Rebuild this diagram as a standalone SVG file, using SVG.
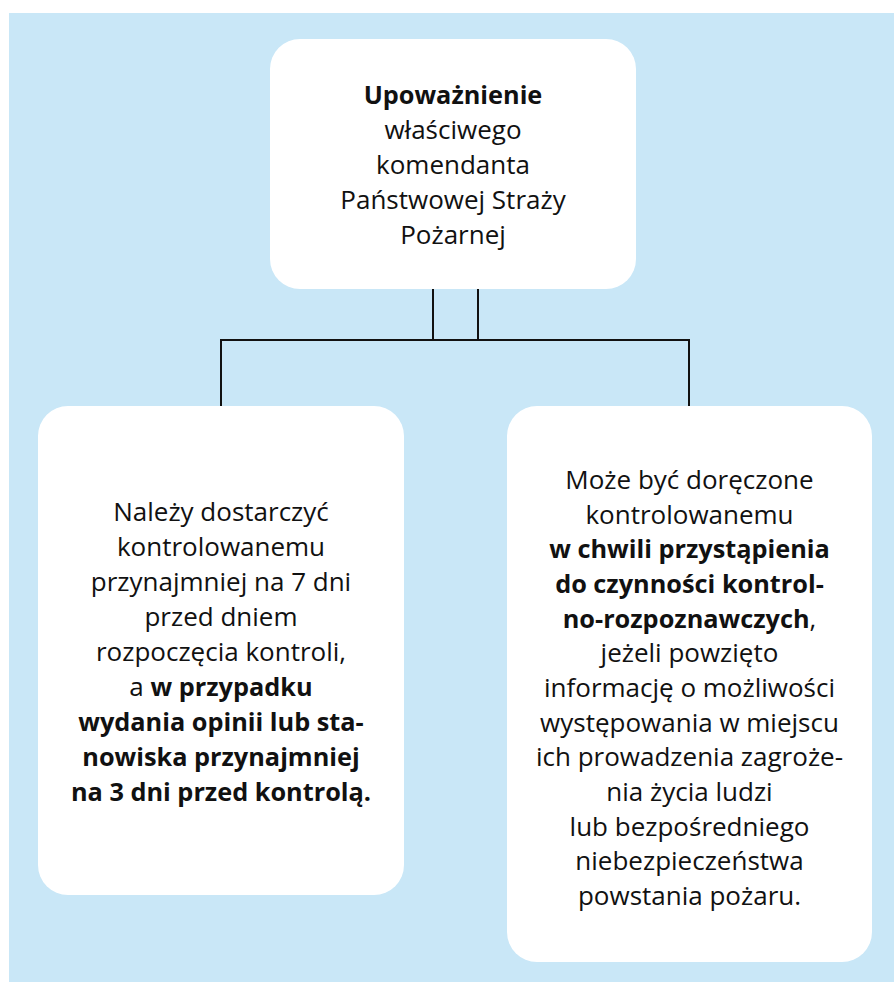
<svg xmlns="http://www.w3.org/2000/svg" width="894" height="983" viewBox="0 0 894 983">
<style>
.box{fill:#ffffff}
.t{font-family:"Open Sans","Noto Sans","DejaVu Sans",sans-serif;font-size:26px;fill:#111111;text-anchor:middle}
.b{font-weight:bold;font-size:25.3px}
.conn{stroke:#111111;stroke-width:2;fill:none}
</style>
<rect x="0" y="0" width="894" height="983" fill="#ffffff"/>
<rect x="9" y="13" width="885" height="969" fill="#c9e7f7"/>
<g id="connectors">
<path class="conn" d="M433 289V340M478 289V340M221 407V340H689V407"/>
</g>
<g id="top">
<rect class="box" x="270" y="39" width="366" height="250" rx="30"/>
<text class="t" x="453" y="104"><tspan class="b" font-size="25.6">Upoważnienie</tspan></text>
<text class="t" x="453" y="139">właściwego</text>
<text class="t" x="453" y="174">komendanta</text>
<text class="t" x="453" y="209">Państwowej Straży</text>
<text class="t" x="453" y="244">Pożarnej</text>
</g>
<g id="left">
<rect class="box" x="38" y="406" width="366" height="489" rx="30"/>
<text class="t" x="221" y="521">Należy dostarczyć</text>
<text class="t" x="221" y="556">kontrolowanemu</text>
<text class="t" x="221" y="591">przynajmniej na 7 dni</text>
<text class="t" x="221" y="626">przed dniem</text>
<text class="t" x="221" y="661">rozpoczęcia kontroli,</text>
<text class="t" x="221" y="696">a <tspan class="b">w przypadku</tspan></text>
<text class="t b" x="221" y="731">wydania opinii lub sta-</text>
<text class="t b" x="221" y="766">nowiska przynajmniej</text>
<text class="t b" x="221" y="801">na 3 dni przed kontrolą.</text>
</g>
<g id="right">
<rect class="box" x="507" y="406" width="365" height="556" rx="30"/>
<text class="t" x="689.5" y="489">Może być doręczone</text>
<text class="t" x="689.5" y="523.7">kontrolowanemu</text>
<text class="t b" x="689.5" y="558.3">w chwili przystąpienia</text>
<text class="t b" x="689.5" y="593">do czynności kontrol-</text>
<text class="t" x="689.5" y="627.7"><tspan class="b">no-rozpoznawczych</tspan>,</text>
<text class="t" x="689.5" y="662.3">jeżeli powzięto</text>
<text class="t" x="689.5" y="697">informację o możliwości</text>
<text class="t" x="689.5" y="731.7">występowania w miejscu</text>
<text class="t" x="689.5" y="766.3">ich prowadzenia zagroże-</text>
<text class="t" x="689.5" y="801">nia życia ludzi</text>
<text class="t" x="689.5" y="835.7">lub bezpośredniego</text>
<text class="t" x="689.5" y="870.3">niebezpieczeństwa</text>
<text class="t" x="689.5" y="905">powstania pożaru.</text>
</g>
</svg>
